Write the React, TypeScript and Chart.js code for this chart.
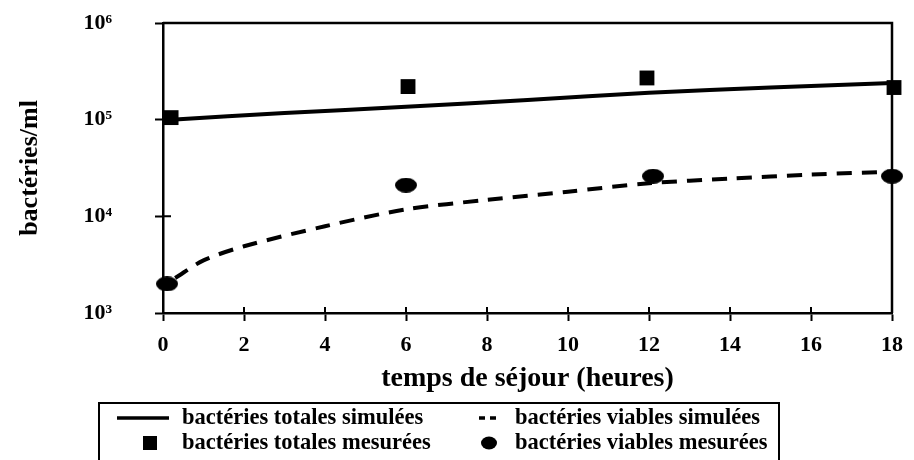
import React, { useEffect, useRef } from "react";
import { Chart, registerables } from "chart.js";

Chart.register(...registerables);

// ---------- data ----------
const X_TICKS = [0, 2, 4, 6, 8, 10, 12, 14, 16, 18];
const Y_TICKS = [1e3, 1e4, 1e5, 1e6];
const Y_TICK_LABELS = ["10³", "10⁴", "10⁵", "10⁶"];

const X_TITLE = "temps de séjour (heures)";
const Y_TITLE = "bactéries/ml";

const SERIES_LABELS = [
  "bactéries totales simulées",
  "bactéries viables simulées",
  "bactéries totales mesurées",
  "bactéries viables mesurées",
];

const SIM_TOTAL_X = [0.2, 3, 6, 9, 12, 15, 18];
const SIM_TOTAL_Y = [1.0e5, 1.17e5, 1.36e5, 1.6e5, 1.9e5, 2.15e5, 2.4e5];

const SIM_VIABLE_X = [0.3, 1, 2, 4, 6, 8, 10, 12, 14, 16, 18];
const SIM_VIABLE_Y = [2.3e3, 3.5e3, 4.9e3, 7.9e3, 1.18e4, 1.48e4, 1.8e4, 2.2e4, 2.45e4, 2.7e4, 2.9e4];

const MES_TOTAL_X = [0.2, 6.05, 11.95, 18.05];
const MES_TOTAL_Y = [1.05e5, 2.2e5, 2.7e5, 2.15e5];

const MES_VIABLE_X = [0.1, 6.0, 12.1, 18.0];
const MES_VIABLE_Y = [2.0e3, 2.1e4, 2.6e4, 2.6e4];

// ---------- helpers ----------
const FONT = "'Liberation Serif', 'Times New Roman', serif";

const pts = (xs: number[], ys: number[]) => xs.map((x, i) => ({ x, y: ys[i] }));

function makeEllipse(w: number, h: number): HTMLCanvasElement {
  const c = document.createElement("canvas");
  c.width = w;
  c.height = h;
  const g = c.getContext("2d")!;
  g.fillStyle = "#000";
  g.beginPath();
  g.ellipse(w / 2, h / 2, w / 2, h / 2, 0, 0, Math.PI * 2);
  g.fill();
  return c;
}

const framePlugin = {
  id: "frameTicks",
  afterDraw(chart: any) {
    const { ctx, chartArea: a, scales } = chart;
    ctx.save();
    ctx.strokeStyle = "#000";
    ctx.lineWidth = 2.5;
    ctx.beginPath();
    ctx.moveTo(a.left, a.top);
    ctx.lineTo(a.right, a.top);
    ctx.lineTo(a.right, a.bottom);
    ctx.stroke();
    ctx.lineWidth = 2;
    ctx.beginPath();
    scales.x.ticks.forEach((t: any) => {
      const px = scales.x.getPixelForValue(t.value);
      ctx.moveTo(px, a.bottom);
      ctx.lineTo(px, a.bottom - 6);
    });
    scales.y.ticks.forEach((t: any) => {
      const py = scales.y.getPixelForValue(t.value);
      ctx.moveTo(a.left, py);
      ctx.lineTo(a.left + 8, py);
    });
    ctx.stroke();
    ctx.restore();
  },
};

const legendPlugin = {
  id: "boxLegend",
  afterDraw(chart: any) {
    const { ctx } = chart;
    const ds = chart.data.datasets;
    ctx.save();
    ctx.strokeStyle = "#000";
    ctx.lineWidth = 2;
    ctx.strokeRect(99, 403, 680, 80);
    const sampleX = [143, 489, 150, 489];
    const rowY = [418, 418, 443, 443];
    const textX = [182, 515, 182, 515];
    ds.forEach((d: any, i: number) => {
      const cx = sampleX[i];
      const cy = rowY[i];
      ctx.fillStyle = "#000";
      ctx.strokeStyle = "#000";
      if (d.showLine) {
        const dashed = d.borderDash && d.borderDash.length;
        ctx.lineWidth = 3.5;
        ctx.setLineDash(dashed ? [6, 5] : []);
        const half = dashed ? 10 : 26;
        ctx.beginPath();
        ctx.moveTo(cx - half, cy);
        ctx.lineTo(cx + half, cy);
        ctx.stroke();
        ctx.setLineDash([]);
      } else if (d.pointStyle === "rect") {
        ctx.fillRect(cx - 7, cy - 7, 14, 14);
      } else {
        ctx.beginPath();
        ctx.ellipse(cx, cy, 8, 6.5, 0, 0, Math.PI * 2);
        ctx.fill();
      }
      ctx.font = `bold 22.5px ${FONT}`;
      ctx.textAlign = "left";
      ctx.textBaseline = "middle";
      ctx.fillText(d.label, textX[i], cy);
    });
    ctx.restore();
  },
};

export default function App() {
  const ref = useRef<HTMLCanvasElement>(null);

  useEffect(() => {
    if (!ref.current) return;
    const ellipse = makeEllipse(22, 15);
    const chart = new Chart(ref.current, {
      type: "scatter",
      data: {
        datasets: [
          {
            label: SERIES_LABELS[0],
            data: pts(SIM_TOTAL_X, SIM_TOTAL_Y),
            showLine: true,
            borderColor: "#000",
            borderWidth: 4,
            pointRadius: 0,
            tension: 0.3,
          },
          {
            label: SERIES_LABELS[1],
            data: pts(SIM_VIABLE_X, SIM_VIABLE_Y),
            showLine: true,
            borderColor: "#000",
            borderWidth: 4,
            borderDash: [15, 10],
            pointRadius: 0,
            tension: 0.3,
          },
          {
            label: SERIES_LABELS[2],
            data: pts(MES_TOTAL_X, MES_TOTAL_Y),
            showLine: false,
            pointStyle: "rect",
            pointRadius: 10.5,
            backgroundColor: "#000",
            borderColor: "#000",
            borderWidth: 0,
            clip: false,
          },
          {
            label: SERIES_LABELS[3],
            data: pts(MES_VIABLE_X, MES_VIABLE_Y),
            showLine: false,
            pointStyle: ellipse as any,
            pointRadius: 10,
            backgroundColor: "#000",
            borderColor: "#000",
            clip: false,
          },
        ],
      },
      options: {
        animation: false,
        responsive: false,
        devicePixelRatio: 1,
        layout: { padding: { top: 23, right: 15, left: 0, bottom: 0 } },
        plugins: {
          legend: { display: false },
          tooltip: { enabled: false },
        },
        scales: {
          x: {
            type: "linear",
            min: 0,
            max: 18,
            afterBuildTicks: (s: any) => {
              s.ticks = X_TICKS.map((v) => ({ value: v }));
            },
            afterFit: (s: any) => {
              s.height = 147;
            },
            grid: {
              drawOnChartArea: false,
              drawTicks: true,
              tickLength: 8,
              tickWidth: 2,
              tickColor: "#000",
            },
            border: { display: true, color: "#000", width: 2.5 },
            ticks: {
              color: "#000",
              padding: 11,
              maxRotation: 0,
              font: { family: FONT, size: 22, weight: "bold" },
            },
            title: {
              display: true,
              text: X_TITLE,
              color: "#000",
              font: { family: FONT, size: 28, weight: "bold" },
              padding: { top: 0, bottom: 64 },
            },
          },
          y: {
            type: "logarithmic",
            min: 1e3,
            max: 1e6,
            afterBuildTicks: (s: any) => {
              s.ticks = Y_TICKS.map((v) => ({ value: v }));
            },
            afterFit: (s: any) => {
              s.width = 163;
              s.paddingTop = 0;
              s.paddingBottom = 0;
            },
            grid: {
              drawOnChartArea: false,
              drawTicks: true,
              tickLength: 8,
              tickWidth: 2,
              tickColor: "#000",
            },
            border: { display: true, color: "#000", width: 2.5 },
            ticks: {
              color: "#000",
              padding: 43,
              font: { family: FONT, size: 22, weight: "bold" },
              callback: (_v: any, i: number) => Y_TICK_LABELS[i],
            },
            title: {
              display: true,
              text: Y_TITLE,
              color: "#000",
              font: { family: FONT, size: 26, weight: "bold" },
              padding: { top: 15, bottom: 0 },
            },
          },
        },
      },
      plugins: [framePlugin, legendPlugin],
    });
    return () => chart.destroy();
  }, []);

  return (
    <div style={{ position: "absolute", left: 0, top: 0, width: 914, height: 460, background: "#fff" }}>
      <canvas ref={ref} width={914} height={460} style={{ width: 914, height: 460 }} />
    </div>
  );
}
